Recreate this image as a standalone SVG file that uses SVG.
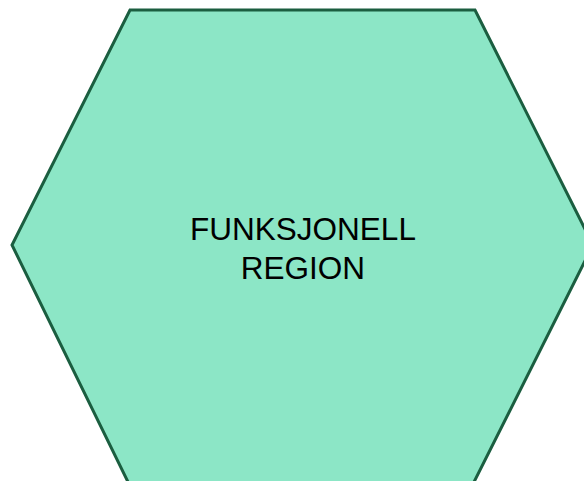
<svg xmlns="http://www.w3.org/2000/svg" width="584" height="481" viewBox="0 0 584 481">
<style>
.hex{fill:#8ce6c6;stroke:#1b5e40;stroke-width:3;stroke-linejoin:miter}
.lbl{font-family:"Liberation Sans",Arial,sans-serif;font-size:31.5px;fill:#000;text-anchor:middle}
</style>
<rect width="584" height="481" fill="#fff"/>
<g id="region">
<polygon class="hex" points="130,10 475,10 593,245 473,484 129,484 12,245"/>
<text class="lbl" x="303" y="240">FUNKSJONELL</text>
<text class="lbl" x="303" y="279">REGION</text>
</g>
</svg>
